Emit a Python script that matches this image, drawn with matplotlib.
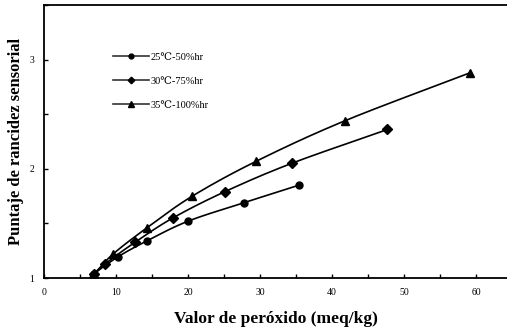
import numpy as np
import matplotlib
matplotlib.use('Agg')
import matplotlib.pyplot as plt
from matplotlib.ticker import MultipleLocator

plt.rcParams['font.family'] = ['Liberation Serif', 'DejaVu Serif']

# data (first point of each series is the line start below the axis)
x_25 = [5.5, 7.0, 10.3, 14.3, 20.0, 27.8, 35.4]
y_25 = [0.94, 1.04, 1.195, 1.34, 1.52, 1.69, 1.85]
x_30 = [5.5, 7.0, 8.5, 12.7, 17.9, 25.1, 34.4, 47.7]
y_30 = [0.94, 1.04, 1.13, 1.33, 1.55, 1.79, 2.05, 2.36]
x_35 = [5.5, 7.0, 9.6, 14.3, 20.6, 29.5, 41.8, 59.2]
y_35 = [0.94, 1.04, 1.22, 1.46, 1.75, 2.07, 2.44, 2.88]
labels = ['25℃-50%hr', '30℃-75%hr', '35℃-100%hr']


def smooth(x, y, n=20):
    # Catmull-Rom style smoothing like Excel's smoothed lines
    x = np.asarray(x, float)
    y = np.asarray(y, float)
    px = np.concatenate([[2 * x[0] - x[1]], x, [2 * x[-1] - x[-2]]])
    py = np.concatenate([[2 * y[0] - y[1]], y, [2 * y[-1] - y[-2]]])
    xs, ys = [], []
    t = np.linspace(0, 1, n)
    for i in range(1, len(px) - 2):
        for p, out in ((px, xs), (py, ys)):
            p0, p1, p2, p3 = p[i - 1], p[i], p[i + 1], p[i + 2]
            out.extend(0.5 * ((2 * p1) + (-p0 + p2) * t
                              + (2 * p0 - 5 * p1 + 4 * p2 - p3) * t ** 2
                              + (-p0 + 3 * p1 - 3 * p2 + p3) * t ** 3))
    return xs, ys


fig = plt.figure(figsize=(5.07, 3.28), dpi=100)
ax = fig.add_axes([44 / 507, 50 / 328, 463 / 507, 273 / 328])

series = [(x_25, y_25, 'o', 5.0), (x_30, y_30, 'D', 4.8), (x_35, y_35, '^', 6.2)]
for (xs, ys, mk, ms), lab in zip(series, labels):
    sx, sy = smooth(xs, ys)
    ax.plot(sx, sy, color='black', lw=1.2)
    ax.plot(xs[1:], ys[1:], linestyle='none', marker=mk, ms=ms, color='black')
    ax.plot([], [], color='#333333', lw=1.2, marker=mk, ms=ms * 0.7, mfc='black',
            mec='black', label=lab)

ax.set_xlim(0, 64.3)
ax.set_ylim(1, 3.5)
ax.xaxis.set_major_locator(MultipleLocator(10))
ax.xaxis.set_minor_locator(MultipleLocator(5))
ax.yaxis.set_major_locator(MultipleLocator(1))
ax.yaxis.set_minor_locator(MultipleLocator(0.5))
ax.tick_params(which='both', direction='in', length=3, width=1, labelsize=7, pad=7)
ax.spines['right'].set_visible(False)
for s in ('left', 'bottom', 'top'):
    ax.spines[s].set_linewidth(1.3)

ax.set_xlabel('Valor de peróxido (meq/kg)', fontsize=12.5, fontweight='bold', labelpad=10)
ax.set_ylabel('Puntaje de rancidez sensorial', fontsize=12, fontweight='bold', labelpad=4)

ax.legend(loc='upper left', bbox_to_anchor=(0.14, 0.84), frameon=False, fontsize=7.5,
          handlelength=3.5, handletextpad=0.1, labelspacing=1.4, borderaxespad=0)

fig.savefig('out.png', dpi=100)
